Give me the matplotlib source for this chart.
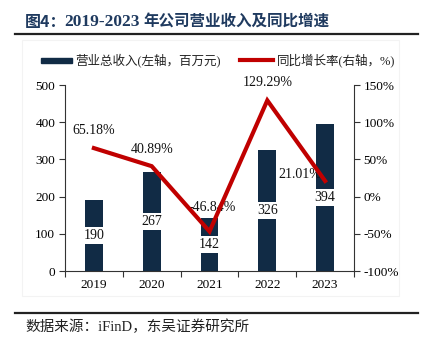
import matplotlib
matplotlib.use("Agg")
import matplotlib.pyplot as plt
from matplotlib.patches import Rectangle
from matplotlib.lines import Line2D
from matplotlib.ticker import FixedLocator, FuncFormatter

# Data
years = ["2019", "2020", "2021", "2022", "2023"]
revenue = [190, 267, 142, 326, 394]            # 百万元
growth = [65.18, 40.89, -46.84, 129.29, 21.01]  # %
left_ticks = [0, 100, 200, 300, 400, 500]
right_ticks = [-100, -50, 0, 50, 100, 150]

CJK = ["Noto Sans CJK SC", "DejaVu Sans"]
SERIF = ["Liberation Serif", "Noto Sans CJK SC"]
NAVY = "#112b45"
RED = "#c00000"
TITLE_C = "#1f3a5f"

W, H = 422, 343
fig = plt.figure(figsize=(W / 100, H / 100), dpi=100)


def fx(px):
    return px / W


def fy(py):
    return 1 - py / H


# Title: three runs chained left to right
t1 = fig.text(fx(25), fy(22), "图4：", family=CJK, fontsize=11.5, fontweight="bold",
              color=TITLE_C, va="center", ha="left")
t2 = fig.text(fx(64), fy(22), "2019-2023", family=SERIF, fontsize=12.5, fontweight="bold",
              color=TITLE_C, va="center", ha="left")
fig.canvas.draw()
r = fig.canvas.get_renderer()
end2 = t2.get_window_extent(r).x1
fig.text(fx(end2 + 4), fy(22), "年公司营业收入及同比增速", family=CJK, fontsize=11.2,
         fontweight="bold", color=TITLE_C, va="center", ha="left")

fig.lines.append(Line2D([fx(15), fx(418)], [fy(34), fy(34)], transform=fig.transFigure,
                        color="#222222", lw=1.6))
fig.lines.append(Line2D([fx(15), fx(418)], [fy(313), fy(313)], transform=fig.transFigure,
                        color="#222222", lw=1.6))
fig.text(fx(25), fy(327), "数据来源：iFinD，东吴证券研究所", family=SERIF, fontsize=10.5,
         color="#222222", va="center", ha="left")

# Faint chart frame
fig.patches.append(Rectangle((fx(22), fy(296)), fx(399) - fx(22), fy(40) - fy(296),
                             transform=fig.transFigure, fill=False, ec="#f3f3f3", lw=0.8))

# Legend
fig.patches.append(Rectangle((fx(41), fy(63)), fx(72) - fx(41), fy(58) - fy(63),
                             transform=fig.transFigure, color=NAVY))
fig.text(fx(75), fy(60), "营业总收入(左轴，百万元)", family=SERIF, fontsize=9,
         color="#222222", va="center", ha="left")
fig.lines.append(Line2D([fx(240), fx(273)], [fy(60), fy(60)], transform=fig.transFigure,
                        color=RED, lw=3))
fig.text(fx(277), fy(60), "同比增长率(右轴，%)", family=SERIF, fontsize=9,
         color="#222222", va="center", ha="left")

# Axes
ax = fig.add_axes([fx(65), fy(271), fx(354) - fx(65), fy(85) - fy(271)])
ax2 = ax.twinx()
ax.set_zorder(1)
ax2.set_zorder(2)
ax.patch.set_visible(False)
ax2.patch.set_visible(False)

x = list(range(len(years)))
ax.bar(x, revenue, width=0.31, color=NAVY, zorder=2)
for xi, v in zip(x, revenue):
    ax.text(xi, v / 2, f"{v}", family=SERIF, fontsize=10, ha="center", va="center",
            color="#111111", zorder=3,
            bbox=dict(boxstyle="square,pad=0.15", fc="white", ec="none"))

ax.set_xlim(-0.5, len(years) - 0.5)
ax.set_ylim(0, 500)
ax.yaxis.set_major_locator(FixedLocator(left_ticks))
ax.set_xticks(x)
ax.set_xticklabels(years, family=SERIF, fontsize=9.5)
ax.tick_params(axis="x", which="major", length=0, pad=6)
ax.xaxis.set_minor_locator(FixedLocator([i - 0.5 for i in range(len(years) + 1)]))
ax.tick_params(axis="x", which="minor", length=4, width=0.8, direction="out", color="#333333")
ax.tick_params(axis="y", length=4, width=0.8, direction="out", color="#333333", pad=3)
for lbl in ax.get_yticklabels():
    lbl.set_family(SERIF)
    lbl.set_fontsize(9.5)

ax2.plot(x, growth, color=RED, lw=3, solid_joinstyle="miter", zorder=4)
ax2.set_ylim(-100, 150)
ax2.yaxis.set_major_locator(FixedLocator(right_ticks))
ax2.yaxis.set_major_formatter(FuncFormatter(lambda v, p: f"{v:.0f}%"))
ax2.tick_params(axis="y", length=4, width=0.8, direction="out", color="#333333", pad=3)
for lbl in ax2.get_yticklabels():
    lbl.set_family(SERIF)
    lbl.set_fontsize(9.5)

offsets = [(0, 13), (0, 12), (2, 17), (0, 13), (-18, 5)]
for xi, g, (dx, dy) in zip(x, growth, offsets):
    ax2.annotate(f"{g:.2f}%", (xi, g), xytext=(dx, dy), textcoords="offset points",
                 ha="center", va="center", family=SERIF, fontsize=10, color="#111111",
                 zorder=3)

for a in (ax, ax2):
    a.spines["top"].set_visible(False)
    for s in a.spines.values():
        s.set_color("#333333")
        s.set_linewidth(0.8)
ax2.spines["left"].set_visible(False)
ax2.spines["bottom"].set_visible(False)
ax.spines["right"].set_visible(False)

fig.savefig("out.png", dpi=100)
